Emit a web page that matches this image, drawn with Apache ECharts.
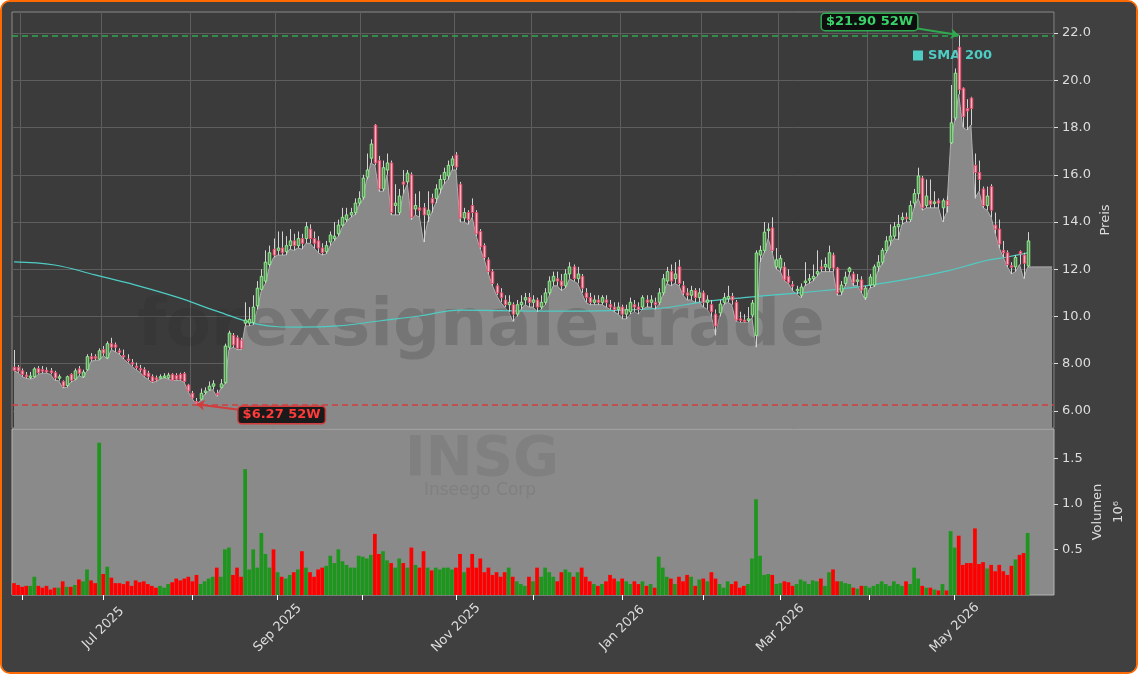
<!DOCTYPE html>
<html><head><meta charset="utf-8">
<script src="https://cdn.jsdelivr.net/npm/echarts@6/dist/echarts.min.js"></script>
<style>
html,body{margin:0;padding:0;background:#ffffff;}
#wrap{position:absolute;left:0;top:0;width:1138px;height:674px;box-sizing:border-box;border:2px solid #ff6a00;border-radius:10px;background:#404040;overflow:hidden;}
#chart{position:absolute;left:-2px;top:-2px;width:1138px;height:674px;}
</style></head><body>
<div id="wrap"><div id="chart"></div></div>
<script>
// ---------- data ----------
const startDate = '2025-05-29';
const holidays = ['2025-06-19','2025-07-04','2025-09-01','2025-11-27','2025-12-25','2026-01-01','2026-01-19','2026-02-16','2026-04-03','2026-05-25'];
const tradingDays = 251;   // candles
const padDays = 6;         // empty slots at right end
const monthNames = ['Jan','Feb','Mar','Apr','May','Jun','Jul','Aug','Sep','Oct','Nov','Dec'];
const priceTicks = [6,8,10,12,14,16,18,20,22];
const volumeTicks = [0.5,1.0,1.5];

// [open, high, low, close]
const ohlc = [
[7.85,8.58,7.70,7.72],[7.85,7.95,7.62,7.70],[7.70,7.80,7.45,7.55],[7.52,7.65,7.38,7.45],[7.45,7.65,7.35,7.48],
[7.45,7.85,7.40,7.78],[7.80,7.90,7.55,7.62],[7.75,7.90,7.60,7.70],[7.72,7.85,7.60,7.65],[7.70,7.82,7.55,7.62],
[7.62,7.70,7.30,7.40],[7.42,7.55,7.28,7.45],[7.25,7.30,6.98,7.05],[7.08,7.50,7.00,7.45],[7.55,7.60,7.22,7.30],
[7.35,7.80,7.30,7.70],[7.78,7.90,7.50,7.60],[7.45,7.75,7.40,7.65],[7.75,8.40,7.70,8.30],[8.30,8.45,8.10,8.20],
[8.30,8.40,8.15,8.25],[8.20,8.65,8.15,8.55],[8.60,8.75,8.35,8.45],[8.25,8.95,8.20,8.85],[8.85,9.10,8.60,8.70],
[8.80,8.90,8.50,8.70],[8.55,8.65,8.40,8.50],[8.35,8.60,8.20,8.30],[8.20,8.40,8.05,8.15],[8.05,8.20,7.90,8.00],
[7.90,8.05,7.75,7.85],[7.80,7.95,7.65,7.75],[7.75,7.85,7.45,7.50],[7.60,7.70,7.35,7.45],[7.45,7.55,7.20,7.25],
[7.40,7.50,7.25,7.32],[7.40,7.55,7.35,7.45],[7.45,7.60,7.40,7.48],[7.40,7.62,7.35,7.52],[7.55,7.60,7.28,7.30],
[7.50,7.60,7.30,7.35],[7.55,7.62,7.30,7.35],[7.58,7.65,7.20,7.25],[7.10,7.15,6.80,6.85],[6.75,6.85,6.50,6.55],
[6.40,6.55,6.27,6.35],[6.50,6.95,6.45,6.75],[6.80,7.00,6.70,6.85],[6.90,7.25,6.85,7.05],[7.05,7.30,6.90,7.15],
[6.75,6.90,6.62,6.70],[7.00,7.35,6.95,7.15],[7.20,8.85,7.15,8.75],[8.70,9.40,8.60,9.30],[9.20,9.30,8.70,8.80],
[9.10,9.20,8.60,8.65],[9.00,9.10,8.60,8.65],[9.72,10.60,9.60,9.85],[9.72,10.40,9.60,9.88],[9.75,10.90,9.65,10.40],
[10.45,11.50,10.30,11.20],[11.15,12.00,11.10,11.70],[11.50,12.80,11.40,12.30],[12.20,13.00,12.10,12.70],[12.85,13.30,12.50,12.60],
[12.80,13.60,12.60,12.90],[12.90,13.60,12.60,12.70],[12.75,13.40,12.60,13.00],[13.00,13.70,12.85,13.20],[13.20,13.50,12.80,13.00],
[13.00,13.60,12.90,13.30],[13.30,13.50,12.85,13.10],[13.30,14.00,13.10,13.80],[13.70,13.90,13.10,13.30],[13.30,13.60,12.90,13.10],
[13.20,13.40,12.70,12.90],[12.90,13.10,12.60,12.70],[12.75,13.20,12.65,13.00],[13.15,13.60,13.00,13.45],[13.30,14.00,13.20,13.40],
[13.50,14.10,13.40,13.87],[13.87,14.60,13.80,14.20],[14.10,14.60,14.00,14.30],[14.30,14.60,14.20,14.40],[14.40,15.00,14.30,14.80],
[14.80,15.30,14.70,15.00],[15.05,16.00,14.95,15.86],[15.90,16.90,15.80,16.20],[16.70,17.50,16.50,17.30],[18.10,18.15,16.40,16.50],
[16.60,16.80,15.30,15.40],[15.40,16.60,15.30,16.30],[16.20,16.90,16.00,16.50],[16.50,16.60,14.30,14.40],[14.70,15.60,14.30,14.80],
[14.40,15.40,14.30,15.10],[15.70,16.20,15.20,15.60],[15.70,16.20,15.60,16.07],[16.00,16.10,14.10,14.20],[14.55,15.20,14.30,14.70],
[14.60,15.30,14.20,14.50],[14.60,14.80,13.15,14.30],[14.30,15.30,14.00,14.50],[15.00,15.20,14.40,14.80],[15.00,15.60,14.80,15.40],
[15.40,16.00,15.20,15.80],[15.80,16.30,15.60,16.10],[15.95,16.60,15.80,16.40],[16.40,16.80,16.20,16.67],[16.84,16.96,16.20,16.33],
[15.60,15.70,14.00,14.17],[14.17,14.60,14.00,14.40],[14.40,14.50,13.90,14.10],[14.70,15.00,14.20,14.40],[14.40,14.50,13.40,13.50],
[13.60,13.70,12.85,12.95],[13.00,13.10,12.40,12.50],[12.40,12.50,11.80,11.90],[11.90,12.00,11.30,11.40],[11.30,11.40,10.90,11.00],
[11.00,11.20,10.60,10.80],[10.70,10.90,10.40,10.50],[10.50,10.90,10.20,10.60],[10.50,10.60,9.80,10.10],[10.10,10.70,10.00,10.50],
[10.50,10.90,10.30,10.60],[10.70,11.00,10.50,10.80],[10.80,11.00,10.40,10.60],[10.60,10.90,10.40,10.70],[10.70,10.80,10.20,10.40],
[10.40,10.90,10.30,10.60],[10.60,11.20,10.50,11.00],[11.00,11.70,10.90,11.50],[11.50,11.90,11.30,11.70],[11.60,11.90,11.30,11.50],
[11.50,11.80,11.10,11.30],[11.30,12.00,11.20,11.80],[11.80,12.30,11.60,12.10],[12.10,12.20,11.50,11.60],[11.60,12.10,11.40,11.80],
[11.70,11.80,11.00,11.20],[11.00,11.20,10.60,10.80],[10.80,11.00,10.50,10.60],[10.60,10.90,10.50,10.70],[10.70,10.90,10.50,10.60],
[10.60,10.90,10.50,10.80],[10.70,10.90,10.40,10.60],[10.50,10.70,10.30,10.40],[10.40,10.60,10.20,10.30],[10.30,10.60,10.10,10.40],
[10.40,10.50,9.90,10.10],[10.10,10.50,9.90,10.30],[10.20,10.80,10.10,10.60],[10.50,10.70,10.20,10.40],[10.40,10.60,10.10,10.30],
[10.40,10.90,10.30,10.80],[10.70,10.90,10.40,10.60],[10.60,10.90,10.40,10.70],[10.60,10.80,10.30,10.50],[10.60,11.20,10.50,11.00],
[11.00,11.80,10.90,11.60],[11.50,12.10,11.40,11.90],[11.90,12.20,11.30,11.50],[11.60,12.30,11.40,11.80],[12.10,12.40,11.30,11.40],
[11.30,11.50,10.90,11.00],[11.00,11.20,10.70,10.90],[10.90,11.30,10.70,11.10],[11.10,11.20,10.60,10.80],[10.80,11.20,10.60,11.00],
[11.00,11.10,10.40,10.60],[10.60,10.90,10.30,10.70],[10.50,10.70,10.00,10.20],[10.10,10.30,9.20,9.60],[10.15,10.70,10.00,10.53],
[10.60,11.00,10.50,10.80],[10.75,11.30,10.60,10.85],[10.85,11.00,10.50,10.70],[10.60,10.70,9.80,9.85],[9.90,10.20,9.75,9.85],
[9.85,10.10,9.75,9.80],[9.85,10.40,9.75,9.90],[10.06,10.70,9.95,10.57],[9.20,12.80,8.70,12.69],[12.60,13.00,12.30,12.80],
[12.80,14.00,12.70,13.57],[13.65,13.95,13.30,13.70],[13.75,14.20,12.70,12.80],[12.10,12.90,12.00,12.40],[12.05,12.60,11.90,12.46],
[12.10,12.30,11.50,11.55],[11.70,12.00,11.40,11.45],[11.35,11.50,11.10,11.30],[11.10,11.30,10.95,11.15],[10.90,11.40,10.80,11.25],
[11.45,12.30,11.30,11.50],[11.55,11.80,11.40,11.60],[11.60,12.20,11.50,11.70],[11.80,12.80,11.70,11.90],[12.10,12.40,11.90,12.05],
[12.10,12.50,11.90,12.20],[12.05,13.00,11.90,12.70],[12.60,12.70,11.90,12.05],[12.05,12.10,10.90,11.00],[11.04,11.50,10.90,11.33],
[11.40,11.90,11.30,11.67],[11.90,12.10,11.80,12.05],[11.80,11.90,11.30,11.45],[11.50,11.80,11.30,11.55],[11.55,11.70,11.00,11.12],
[10.80,11.30,10.70,11.20],[11.33,11.80,11.20,11.67],[11.33,12.20,11.25,12.10],[12.10,12.60,11.90,12.30],[12.30,12.90,12.20,12.80],
[12.80,13.40,12.70,13.20],[13.20,13.90,13.00,13.40],[13.40,14.00,13.30,13.80],[13.80,14.30,13.25,13.90],[14.10,14.40,13.90,14.20],
[14.20,14.40,14.00,14.15],[14.10,14.90,14.00,14.70],[14.80,15.40,14.60,15.20],[15.20,16.30,15.00,15.95],[15.86,15.95,14.50,14.60],
[14.70,15.80,14.60,15.10],[14.90,15.80,14.60,14.75],[14.80,15.30,14.60,14.85],[14.90,15.00,14.60,14.80],[14.60,15.00,14.00,14.90],
[14.90,15.10,14.40,14.70],[17.35,19.80,17.30,18.20],[18.40,20.50,18.30,20.30],[21.40,21.90,19.40,19.60],[19.66,19.70,18.00,18.46],
[18.80,19.20,17.90,18.70],[19.25,19.30,18.10,18.80],[16.40,16.90,15.00,16.10],[16.10,16.60,15.30,15.80],[15.40,15.50,14.60,14.70],
[14.70,15.50,14.50,15.10],[15.50,15.60,14.20,14.50],[13.87,14.40,13.50,13.70],[13.70,14.10,12.90,13.07],[12.80,13.20,12.50,12.70],
[12.70,12.80,12.10,12.20],[12.15,12.30,11.80,12.10],[12.10,12.60,11.90,12.50],[12.75,12.80,12.20,12.65],[12.60,12.70,11.60,12.25],
[12.14,13.57,12.10,13.20]
];

// volume in millions of shares
const volumes = [
0.13,0.11,0.09,0.10,0.10,0.20,0.10,0.08,0.10,0.06,
0.08,0.08,0.15,0.09,0.09,0.11,0.17,0.15,0.28,0.16,
0.13,1.67,0.23,0.31,0.19,0.13,0.13,0.12,0.15,0.10,
0.16,0.14,0.15,0.12,0.10,0.08,0.10,0.08,0.12,0.14,
0.18,0.16,0.18,0.20,0.15,0.22,0.12,0.15,0.18,0.20,
0.30,0.20,0.50,0.52,0.22,0.30,0.20,1.38,0.28,0.50,
0.30,0.68,0.45,0.30,0.50,0.25,0.20,0.18,0.22,0.25,
0.28,0.48,0.30,0.25,0.20,0.28,0.30,0.32,0.43,0.35,
0.50,0.37,0.33,0.30,0.30,0.43,0.42,0.40,0.44,0.67,
0.45,0.48,0.38,0.35,0.30,0.40,0.35,0.30,0.52,0.33,
0.30,0.48,0.30,0.27,0.30,0.28,0.30,0.30,0.28,0.30,
0.45,0.25,0.30,0.45,0.30,0.40,0.25,0.30,0.22,0.25,
0.20,0.25,0.30,0.20,0.15,0.12,0.10,0.20,0.15,0.30,
0.20,0.30,0.25,0.20,0.15,0.25,0.28,0.25,0.20,0.25,
0.30,0.20,0.15,0.12,0.10,0.12,0.15,0.22,0.18,0.15,
0.18,0.15,0.12,0.15,0.12,0.15,0.10,0.12,0.08,0.42,
0.30,0.20,0.18,0.12,0.20,0.15,0.22,0.20,0.10,0.17,
0.18,0.15,0.25,0.18,0.12,0.08,0.15,0.12,0.15,0.08,
0.10,0.12,0.40,1.05,0.43,0.22,0.23,0.22,0.12,0.13,
0.15,0.14,0.10,0.12,0.17,0.15,0.12,0.16,0.15,0.18,
0.10,0.25,0.28,0.15,0.15,0.13,0.12,0.08,0.07,0.10,
0.10,0.08,0.10,0.12,0.15,0.12,0.10,0.15,0.12,0.10,
0.15,0.12,0.30,0.18,0.10,0.08,0.08,0.06,0.05,0.12,
0.05,0.70,0.52,0.65,0.33,0.35,0.35,0.73,0.34,0.36,
0.29,0.33,0.26,0.33,0.26,0.22,0.32,0.39,0.44,0.46,0.68
];

// SMA 200 at these day indices
const smaIndex = [0,10,20,30,40,50,60,70,80,90,100,110,120,130,140,150,160,170,180,190,200,210,220,230,235,240,245,250];
const smaValue = [12.31,12.18,11.76,11.33,10.83,10.23,9.68,9.55,9.60,9.81,10.02,10.27,10.25,10.23,10.23,10.27,10.36,10.62,10.80,10.95,11.10,11.30,11.57,11.92,12.15,12.38,12.52,12.69];

const high52 = 21.90, low52 = 6.27;
const highIdx = 233, lowIdx = 45;
const rightFill = 12.1;   // flat area level after last candle

// ---------- build ----------
function fmt(d){return d.getFullYear()+'-'+String(d.getMonth()+1).padStart(2,'0')+'-'+String(d.getDate()).padStart(2,'0');}
const dates = [];
{
  const d = new Date(startDate+'T12:00:00');
  while (dates.length < tradingDays + padDays) {
    const s = fmt(d), wd = d.getDay();
    if (wd !== 0 && wd !== 6 && holidays.indexOf(s) < 0) dates.push(s);
    d.setDate(d.getDate()+1);
  }
}
function isMonthStart(i){ return i>0 && i<tradingDays && dates[i].slice(0,7) !== dates[i-1].slice(0,7); }
function isLabel(i){ return isMonthStart(i) && (+dates[i].slice(5,7)) % 2 === 1; }

const candleData = ohlc.map((r,i)=>[i, r[0], r[1], r[2], r[3]]);
const areaData = ohlc.map(r=>r[2]).concat(new Array(padDays).fill(rightFill));
const smaData = dates.map(()=>null);
smaIndex.forEach((k,j)=>{ smaData[k] = smaValue[j]; });
const volData = volumes.map((v,i)=>({value:v, itemStyle:{color: ohlc[i][3] >= ohlc[i][0] ? '#1e961e' : '#ff0000'}}));

const UP_FILL='#5a8f5a', UP_STROKE='#90ee90', DN_FILL='#ffb3c1', DN_STROKE='#e8486a', WICK='#d4d4d4';

function renderCandle(params, api){
  const i = api.value(0), o = api.value(1), h = api.value(2), l = api.value(3), c = api.value(4);
  const pO = api.coord([i,o]), pC = api.coord([i,c]), pH = api.coord([i,h]), pL = api.coord([i,l]);
  const band = api.size([1,0])[0];
  const w = Math.max(band*0.62, 1.5);
  const up = c >= o;
  const top = Math.min(pO[1],pC[1]), bot = Math.max(pO[1],pC[1]);
  const x = Math.round(pO[0]) + 0.5;
  return {type:'group', children:[
    {type:'line', shape:{x1:x, y1:pH[1], x2:x, y2:pL[1]}, style:{stroke:WICK, lineWidth:1}},
    {type:'rect', shape:{x:x-w/2, y:top, width:w, height:Math.max(bot-top,1.5)}, style:{fill: up?UP_FILL:DN_FILL, stroke: up?UP_STROKE:DN_STROKE, lineWidth:1}}
  ]};
}

const GREEN='#2fa84f', RED='#d23c3c';
const chart = echarts.init(document.getElementById('chart'), null, {renderer:'canvas'});
const axisText = {color:'#dddddd', fontSize:13, fontFamily:'DejaVu Sans'};

chart.setOption({
  animation:false,
  backgroundColor:'#404040',
  textStyle:{fontFamily:'DejaVu Sans'},
  grid:[
    {left:12, right:84, top:12, height:416, show:true, backgroundColor:'#3b3b3b', borderColor:'#8a8a8a', borderWidth:1, outerBoundsMode:'none'},
    {left:12, right:84, top:429, height:166, show:true, backgroundColor:'#8a8a8a', borderColor:'#b4b4b4', borderWidth:1, outerBoundsMode:'none'}
  ],
  legend:{data:['SMA 200'], left:908, top:44, icon:'rect', itemWidth:10, itemHeight:10, itemGap:6,
    textStyle:{color:'#4ecdc4', fontWeight:'bold', fontSize:13, fontFamily:'DejaVu Sans'}, selectedMode:false},
  xAxis:[
    {type:'category', gridIndex:0, data:dates, boundaryGap:true,
      axisLine:{show:false}, axisTick:{show:false}, axisLabel:{show:false},
      splitLine:{show:true, interval:(i)=>isMonthStart(i), lineStyle:{color:'#5e5e5e', width:1}}},
    {type:'category', gridIndex:1, data:dates, boundaryGap:true,
      axisLine:{show:false},
      axisTick:{show:true, alignWithLabel:true, interval:(i)=>isMonthStart(i), length:5, lineStyle:{color:'#ffffff'}},
      axisLabel:{show:true, interval:(i)=>isLabel(i), rotate:45, margin:33, align:'center', verticalAlign:'middle', ...axisText,
        formatter:(v)=>monthNames[+v.slice(5,7)-1]+' '+v.slice(0,4)},
      splitLine:{show:false}}
  ],
  yAxis:[
    {type:'value', gridIndex:0, position:'right', min:5.28, max:22.89, scale:true,
      name:'Preis', nameLocation:'middle', nameRotate:90, nameGap:45, nameMoveOverlap:false, nameTextStyle:axisText,
      axisLine:{show:false},
      axisTick:{show:true, length:4, customValues:priceTicks, lineStyle:{color:'#dddddd'}},
      axisLabel:{...axisText, margin:8, customValues:priceTicks, formatter:(v)=> v<10 ? v.toFixed(2) : v.toFixed(1)},
      splitLine:{show:true, lineStyle:{color:'#5e5e5e', width:1}}},
    {type:'value', gridIndex:1, position:'right', min:0, max:1.82,
      name:'Volumen\n10⁶', nameLocation:'middle', nameRotate:90, nameGap:33, nameMoveOverlap:false,
      nameTextStyle:{...axisText, lineHeight:21, align:'center'},
      axisLine:{show:false},
      axisTick:{show:true, length:4, customValues:volumeTicks, lineStyle:{color:'#dddddd'}},
      axisLabel:{...axisText, margin:8, customValues:volumeTicks, formatter:(v)=>v.toFixed(1)},
      splitLine:{show:false}}
  ],
  graphic:[
    {type:'text', x:481, y:328, z:1, silent:true,
      style:{text:'forexsignale.trade', font:'bold 66px "DejaVu Sans"', fill:'rgba(40,40,40,0.20)', align:'center', verticalAlign:'middle'}},
    {type:'text', x:482, y:460, z:1, silent:true,
      style:{text:'INSG', font:'bold 56px "DejaVu Sans"', fill:'rgba(60,60,60,0.13)', align:'center', verticalAlign:'middle'}},
    {type:'text', x:480, y:491, z:1, silent:true,
      style:{text:'Inseego Corp', font:'17px "DejaVu Sans"', fill:'rgba(60,60,60,0.13)', align:'center', verticalAlign:'middle'}}
  ],
  series:[
    {name:'Low', type:'line', xAxisIndex:0, yAxisIndex:0, data:areaData, symbol:'none', z:0,
      lineStyle:{color:'#b0b0b0', width:1}, areaStyle:{color:'#898989', opacity:1, origin:'start'}},
    {name:'SMA 200', type:'line', xAxisIndex:0, yAxisIndex:0, data:smaData, connectNulls:true, smooth:0.4,
      symbol:'none', z:3, lineStyle:{color:'#4ecdc4', width:1.2}, itemStyle:{color:'#4ecdc4'}},
    {name:'Kerzen', type:'custom', xAxisIndex:0, yAxisIndex:0, data:candleData, renderItem:renderCandle,
      encode:{x:0, y:[1,2,3,4]}, z:4, clip:true,
      markLine:{silent:true, symbol:['none','none'], z:5, label:{show:false},
        data:[
          {yAxis:high52, lineStyle:{color:GREEN, type:[6,4], width:1.5}},
          {yAxis:low52, lineStyle:{color:RED, type:[6,4], width:1.5}},
          [{coord:[dates[222], 22.21], symbol:'none', lineStyle:{color:GREEN, type:'solid', width:2}},
           {coord:[dates[highIdx], high52+0.02], symbol:'arrow', symbolSize:8}],
          [{coord:[dates[56], 6.04], symbol:'none', lineStyle:{color:RED, type:'solid', width:2}},
           {coord:[dates[lowIdx], low52+0.02], symbol:'arrow', symbolSize:8}]
        ]},
      markPoint:{silent:true, symbol:'circle', symbolSize:1, itemStyle:{color:'rgba(0,0,0,0)'}, z:6,
        data:[
          {coord:[dates[211], 22.47], label:{show:true, position:'inside', formatter:'$'+high52.toFixed(2)+' 52W',
            color:'#3ad36a', fontWeight:'bold', fontSize:13, fontFamily:'DejaVu Sans', backgroundColor:'#0e0e0e',
            borderColor:GREEN, borderWidth:1.5, borderRadius:3, padding:[2,4,1,4]}},
          {coord:[dates[66], 5.83], label:{show:true, position:'inside', formatter:'$'+low52.toFixed(2)+' 52W',
            color:'#ff3b3b', fontWeight:'bold', fontSize:13, fontFamily:'DejaVu Sans', backgroundColor:'#1a1a1a',
            borderColor:RED, borderWidth:1.5, borderRadius:3, padding:[2,4,1,4]}}
        ]}},
    {name:'Volumen', type:'bar', xAxisIndex:1, yAxisIndex:1, data:volData, barWidth:'92%', z:4}
  ]
});
</script>
</body></html>
